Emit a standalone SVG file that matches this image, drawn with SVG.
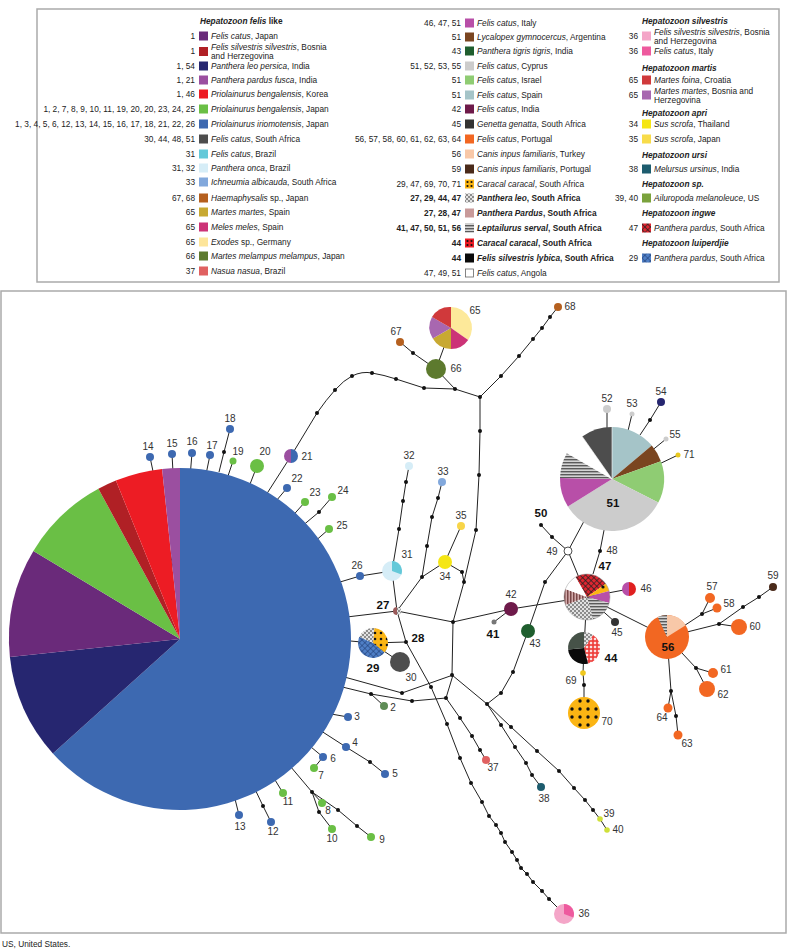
<svg xmlns="http://www.w3.org/2000/svg" width="787" height="949" viewBox="0 0 787 949">
<style>
.lg{font-family:"Liberation Sans",Arial,sans-serif;font-size:8.3px;fill:#222}
.hd{font-weight:bold;font-style:italic}
.it{font-style:italic}
.b{font-weight:bold}
.lb{font-family:"Liberation Sans",Arial,sans-serif;font-size:10px;fill:#333;text-anchor:middle}
.lbb{font-family:"Liberation Sans",Arial,sans-serif;font-size:11.5px;font-weight:bold;fill:#111;text-anchor:middle}
.ln{fill:none;stroke:#222;stroke-width:1}
.dot{fill:#111}
.frame{fill:none;stroke:#aaa;stroke-width:1.5}
</style>
<defs>
<pattern id="pLeo" width="4" height="4" patternUnits="userSpaceOnUse"><rect width="4" height="4" fill="#e2e2e2"/><rect width="2" height="2" fill="#8c8c8c"/><rect x="2" y="2" width="2" height="2" fill="#8c8c8c"/></pattern>
<pattern id="pServal" width="4" height="3" patternUnits="userSpaceOnUse"><rect width="4" height="3" fill="#d4d4d4"/><rect width="4" height="1.4" fill="#5a5a5a"/></pattern>
<pattern id="pIngwe" width="4" height="4" patternUnits="userSpaceOnUse" patternTransform="rotate(45)"><rect width="4" height="4" fill="#e02630"/><path d="M0 0H4M0 0V4" stroke="#222" stroke-width="1.3"/></pattern>
<pattern id="pLuip" width="4" height="4" patternUnits="userSpaceOnUse" patternTransform="rotate(45)"><rect width="4" height="4" fill="#4f7fc6"/><path d="M0 0H4M0 0V4" stroke="#1e3a70" stroke-width="1.1"/></pattern>
<pattern id="pGing" width="4" height="4" patternUnits="userSpaceOnUse"><rect width="4" height="4" fill="#fbe0e0"/><rect width="4" height="2" fill="#ee3a36" opacity=".8"/><rect width="2" height="4" fill="#ee3a36" opacity=".8"/></pattern>
<pattern id="pCar" width="6" height="6" patternUnits="userSpaceOnUse"><rect width="6" height="6" fill="#fbb514"/><circle cx="3" cy="3" r="1.3" fill="#111"/></pattern>
<pattern id="pPard" width="3" height="3" patternUnits="userSpaceOnUse"><rect width="3" height="3" fill="#d2aaaa"/><rect width="1.5" height="3" fill="#7a4848"/></pattern>
</defs>
<rect width="787" height="949" fill="#fff"/>

<!-- legend -->
<g id="legend" class="lg">
<rect class="frame" x="37" y="9" width="742" height="273"/>
<text x="200" y="24" class="hd">Hepatozoon felis <tspan font-style="normal">like</tspan></text>
<g text-anchor="end">
<text x="195" y="39">1</text>
<text x="195" y="54">1</text>
<text x="195" y="69">1, 54</text>
<text x="195" y="83">1, 21</text>
<text x="195" y="97">1, 46</text>
<text x="195" y="112">1, 2, 7, 8, 9, 10, 11, 19, 20, 20, 23, 24, 25</text>
<text x="195" y="127">1, 3, 4, 5, 6, 12, 13, 14, 15, 16, 17, 18, 21, 22, 26</text>
<text x="195" y="142">30, 44, 48, 51</text>
<text x="195" y="157">31</text>
<text x="195" y="171">31, 32</text>
<text x="195" y="185">33</text>
<text x="195" y="201">67, 68</text>
<text x="195" y="215">65</text>
<text x="195" y="230">65</text>
<text x="195" y="245">65</text>
<text x="195" y="259">66</text>
<text x="195" y="274">37</text>
</g>
<rect x="199" y="31.5" width="9" height="9" fill="#6a2a7a"/>
<rect x="199" y="47" width="9" height="9" fill="#b02025"/>
<rect x="199" y="61.5" width="9" height="9" fill="#262670"/>
<rect x="199" y="75.5" width="9" height="9" fill="#9b4fa0"/>
<rect x="199" y="89.5" width="9" height="9" fill="#ed1c24"/>
<rect x="199" y="104.5" width="9" height="9" fill="#6abf45"/>
<rect x="199" y="119.5" width="9" height="9" fill="#3d69b1"/>
<rect x="199" y="134.5" width="9" height="9" fill="#4d4d4d"/>
<rect x="199" y="149.5" width="9" height="9" fill="#64c9d9"/>
<rect x="199" y="163.5" width="9" height="9" fill="#d6edf7"/>
<rect x="199" y="177.5" width="9" height="9" fill="#82a8dc"/>
<rect x="199" y="193.5" width="9" height="9" fill="#b5601f"/>
<rect x="199" y="207.5" width="9" height="9" fill="#c8a932"/>
<rect x="199" y="222.5" width="9" height="9" fill="#cc3377"/>
<rect x="199" y="237.5" width="9" height="9" fill="#fde59a"/>
<rect x="199" y="251.5" width="9" height="9" fill="#5d7a2e"/>
<rect x="199" y="266.5" width="9" height="9" fill="#e06161"/>
<text x="211" y="39"><tspan class="it">Felis catus</tspan>, Japan</text>
<text x="211" y="49.5"><tspan class="it">Felis silvestris silvestris</tspan>, Bosnia</text>
<text x="211" y="58.5">and Herzegovina</text>
<text x="211" y="69"><tspan class="it">Panthera leo persica</tspan>, India</text>
<text x="211" y="83"><tspan class="it">Panthera pardus fusca</tspan>, India</text>
<text x="211" y="97"><tspan class="it">Priolainurus bengalensis</tspan>, Korea</text>
<text x="211" y="112"><tspan class="it">Priolainurus bengalensis</tspan>, Japan</text>
<text x="211" y="127"><tspan class="it">Priolainurus iriomotensis</tspan>, Japan</text>
<text x="211" y="142"><tspan class="it">Felis catus</tspan>, South Africa</text>
<text x="211" y="157"><tspan class="it">Felis catus</tspan>, Brazil</text>
<text x="211" y="171"><tspan class="it">Panthera onca</tspan>, Brazil</text>
<text x="211" y="185"><tspan class="it">Ichneumia albicauda</tspan>, South Africa</text>
<text x="211" y="201"><tspan class="it">Haemaphysalis</tspan> sp., Japan</text>
<text x="211" y="215"><tspan class="it">Martes martes</tspan>, Spain</text>
<text x="211" y="230"><tspan class="it">Meles meles</tspan>, Spain</text>
<text x="211" y="245"><tspan class="it">Exodes</tspan> sp., Germany</text>
<text x="211" y="259"><tspan class="it">Martes melampus melampus</tspan>, Japan</text>
<text x="211" y="274"><tspan class="it">Nasua nasua</tspan>, Brazil</text>

<g text-anchor="end">
<text x="461" y="26">46, 47, 51</text>
<text x="461" y="40">51</text>
<text x="461" y="54">43</text>
<text x="461" y="69">51, 52, 53, 55</text>
<text x="461" y="83">51</text>
<text x="461" y="98">51</text>
<text x="461" y="112">42</text>
<text x="461" y="127">45</text>
<text x="461" y="142">56, 57, 58, 60, 61, 62, 63, 64</text>
<text x="461" y="157">56</text>
<text x="461" y="172">59</text>
<text x="461" y="187">29, 47, 69, 70, 71</text>
<text x="461" y="201" class="b">27, 29, 44, 47</text>
<text x="461" y="216" class="b">27, 28, 47</text>
<text x="461" y="231" class="b">41, 47, 50, 51, 56</text>
<text x="461" y="246" class="b">44</text>
<text x="461" y="261" class="b">44</text>
<text x="461" y="276">47, 49, 51</text>
</g>
<rect x="465" y="18.5" width="9" height="9" fill="#b84fa8"/>
<rect x="465" y="32.5" width="9" height="9" fill="#7a4520"/>
<rect x="465" y="46.5" width="9" height="9" fill="#1f5e2e"/>
<rect x="465" y="61.5" width="9" height="9" fill="#cccccc"/>
<rect x="465" y="75.5" width="9" height="9" fill="#8fcc73"/>
<rect x="465" y="90.5" width="9" height="9" fill="#a5c4c8"/>
<rect x="465" y="104.5" width="9" height="9" fill="#6e1a4a"/>
<rect x="465" y="119.5" width="9" height="9" fill="#333333"/>
<rect x="465" y="134.5" width="9" height="9" fill="#f26722"/>
<rect x="465" y="149.5" width="9" height="9" fill="#f8c8a8"/>
<rect x="465" y="164.5" width="9" height="9" fill="#4a2a1a"/>
<rect x="465" y="179.5" width="9" height="9" fill="#fbb514"/>
<g fill="#111"><circle cx="467.5" cy="182" r="1.1"/><circle cx="471.5" cy="182" r="1.1"/><circle cx="467.5" cy="186" r="1.1"/><circle cx="471.5" cy="186" r="1.1"/></g>
<rect x="465" y="193.5" width="9" height="9" fill="url(#pLeo)"/>
<rect x="465" y="208.5" width="9" height="9" fill="#c89a9a"/>
<rect x="465" y="223.5" width="9" height="9" fill="url(#pServal)"/>
<rect x="465" y="238.5" width="9" height="9" fill="#ed1c24"/>
<g fill="#111"><circle cx="467.5" cy="241" r="1.1"/><circle cx="471.5" cy="241" r="1.1"/><circle cx="467.5" cy="245" r="1.1"/><circle cx="471.5" cy="245" r="1.1"/></g>
<rect x="465" y="253.5" width="9" height="9" fill="#0a0a0a"/>
<rect x="465.5" y="269" width="8" height="8" fill="#fff" stroke="#666" stroke-width="0.8"/>
<text x="477" y="26"><tspan class="it">Felis catus</tspan>, Italy</text>
<text x="477" y="40"><tspan class="it">Lycalopex gymnocercus</tspan>, Argentina</text>
<text x="477" y="54"><tspan class="it">Panthera tigris tigris</tspan>, India</text>
<text x="477" y="69"><tspan class="it">Felis catus</tspan>, Cyprus</text>
<text x="477" y="83"><tspan class="it">Felis catus</tspan>, Israel</text>
<text x="477" y="98"><tspan class="it">Felis catus</tspan>, Spain</text>
<text x="477" y="112"><tspan class="it">Felis catus</tspan>, India</text>
<text x="477" y="127"><tspan class="it">Genetta genatta</tspan>, South Africa</text>
<text x="477" y="142"><tspan class="it">Felis catus</tspan>, Portugal</text>
<text x="477" y="157"><tspan class="it">Canis inpus familiaris</tspan>, Turkey</text>
<text x="477" y="172"><tspan class="it">Canis inpus familiaris</tspan>, Portugal</text>
<text x="477" y="187"><tspan class="it">Caracal caracal</tspan>, South Africa</text>
<text x="477" y="201" class="b"><tspan class="it">Panthera leo</tspan>, South Africa</text>
<text x="477" y="216" class="b"><tspan class="it">Panthera Pardus</tspan>, South Africa</text>
<text x="477" y="231" class="b"><tspan class="it">Leptailurus serval</tspan>, South Africa</text>
<text x="477" y="246" class="b"><tspan class="it">Caracal caracal</tspan>, South Africa</text>
<text x="477" y="261" class="b"><tspan class="it">Felis silvestris lybica</tspan>, South Africa</text>
<text x="477" y="276"><tspan class="it">Felis catus</tspan>, Angola</text>

<text x="642" y="24" class="hd">Hepatozoon silvestris</text>
<text x="642" y="71" class="hd">Hepatozoon martis</text>
<text x="642" y="116" class="hd">Hepatozoon apri</text>
<text x="642" y="158" class="hd">Hepatozoon ursi</text>
<text x="642" y="187" class="hd">Hepatozoon sp.</text>
<text x="642" y="216" class="hd">Hepatozoon ingwe</text>
<text x="642" y="246" class="hd">Hepatozoon luiperdjie</text>
<g text-anchor="end">
<text x="638" y="39">36</text>
<text x="638" y="54">36</text>
<text x="638" y="83">65</text>
<text x="638" y="98">65</text>
<text x="638" y="127">34</text>
<text x="638" y="142">35</text>
<text x="638" y="172">38</text>
<text x="638" y="201">39, 40</text>
<text x="638" y="231">47</text>
<text x="638" y="261">29</text>
</g>
<rect x="642" y="31.5" width="9" height="9" fill="#f4a6c8"/>
<rect x="642" y="46.5" width="9" height="9" fill="#ee5a9e"/>
<rect x="642" y="75.5" width="9" height="9" fill="#d0393b"/>
<rect x="642" y="90.5" width="9" height="9" fill="#a867b0"/>
<rect x="642" y="119.5" width="9" height="9" fill="#f5e614"/>
<rect x="642" y="134.5" width="9" height="9" fill="#f8dc4a"/>
<rect x="642" y="164.5" width="9" height="9" fill="#1d5c6e"/>
<rect x="642" y="193.5" width="9" height="9" fill="#7aa23c"/>
<rect x="642" y="223.5" width="9" height="9" fill="url(#pIngwe)"/>
<rect x="642" y="253.5" width="9" height="9" fill="url(#pLuip)"/>
<text x="654" y="35"><tspan class="it">Felis silvestris silvestris</tspan>, Bosnia</text>
<text x="654" y="43.5">and Herzegovina</text>
<text x="654" y="54"><tspan class="it">Felis catus</tspan>, Italy</text>
<text x="654" y="83"><tspan class="it">Martes foina</tspan>, Croatia</text>
<text x="654" y="94"><tspan class="it">Martes martes</tspan>, Bosnia and</text>
<text x="654" y="102.5">Herzegovina</text>
<text x="654" y="127"><tspan class="it">Sus scrofa</tspan>, Thailand</text>
<text x="654" y="142"><tspan class="it">Sus scrofa</tspan>, Japan</text>
<text x="654" y="172"><tspan class="it">Melursus ursinus</tspan>, India</text>
<text x="654" y="201"><tspan class="it">Ailuropoda melanoleuce</tspan>, US</text>
<text x="654" y="231"><tspan class="it">Panthera pardus</tspan>, South Africa</text>
<text x="654" y="261"><tspan class="it">Panthera pardus</tspan>, South Africa</text>
</g>

<rect class="frame" x="1" y="291" width="785" height="642"/>

<!-- connectors -->
<g id="connectors" class="ln">
<polyline points="180,600 150,457"/>
<polyline points="180,600 172,454"/>
<polyline points="180,600 192,453"/>
<polyline points="180,600 210,455"/>
<polyline points="219,472 224,452 230,429"/>
<polyline points="220,500 233,461"/>
<polyline points="240,510 257,466"/>
<polyline points="250,520 291,456"/>
<polyline points="260,520 287,488"/>
<polyline points="280,530 305,502"/>
<polyline points="295,532 319,512 332,497"/>
<polyline points="305,550 329,529"/>
<polyline points="330,585 360,576 392,571"/>
<polyline points="330,619 397,611"/>
<polyline points="340,640 372,643 406,642"/>
<polyline points="372,643 400,662"/>
<polyline points="330,673 402,693 453,675"/>
<polyline points="330,684 371,694 412,701 446,698 453,675"/>
<polyline points="371,694 384,706"/>
<polyline points="320,712 348,717"/>
<polyline points="315,727 346,747 370,762 385,774"/>
<polyline points="305,742 323,757 314,768"/>
<polyline points="285,760 312,792 322,803"/>
<polyline points="312,792 319,812 332,829"/>
<polyline points="312,792 338,810 357,826 371,837"/>
<polyline points="272,775 283,793"/>
<polyline points="253,785 263,806 271,822"/>
<polyline points="234,795 239,815"/>
<path d="M291,456 L317,413 Q326,400 335,390 Q344,380 352,376 Q362,371 372,373 Q384,375 396,379 L424,388 L455,389 L480,397"/>
<polyline points="400,342 413,353 436,369 455,389"/>
<polyline points="451,328 436,369"/>
<polyline points="480,397 501,376 519,356 533,339 542,328 550,317 558,307"/>
<polyline points="480,397 480,431 479,475 476,530 464,582 453,622"/>
<polyline points="409,466 406,482 403,501 399,529 392,571 397,611"/>
<polyline points="442,482 438,498 432,517 427,546 422,577 397,611"/>
<polyline points="422,577 445,562 461,526"/>
<polyline points="445,562 462,572 464,582"/>
<polyline points="397,611 453,622 511,609 587,597"/>
<polyline points="511,609 494,622"/>
<polyline points="397,611 406,642 431,687 447,724 460,758 471,783 482,802 489,816 496,825 501,833 505,842 512,852 517,860 521,868 527,874 533,882 542,891 549,899 564,914"/>
<polyline points="453,622 452,675 487,704"/>
<polyline points="446,698 460,718 472,736 480,750 486,760"/>
<polyline points="487,704 501,693 513,672 528,631 545,582 568,551"/>
<polyline points="487,704 501,725 515,747 526,763 532,775 541,787"/>
<polyline points="487,704 511,727 537,751 559,771 574,788 585,800 593,810 600,819 607,830"/>
<polyline points="541,525 552,537 568,551 587,597"/>
<polyline points="568,551 590,510"/>
<polyline points="606,520 600,551 593,574"/>
<polyline points="607,440 607,409"/>
<polyline points="627,435 632,414"/>
<polyline points="640,435 650,420 661,402"/>
<polyline points="650,452 666,439"/>
<polyline points="655,466 678,455"/>
<polyline points="587,597 629,589"/>
<polyline points="587,597 615,622"/>
<polyline points="587,597 667,637"/>
<polyline points="586,610 584,648 583,673 584,685 584,713"/>
<polyline points="667,637 702,614 710,598"/>
<polyline points="702,614 717,608"/>
<polyline points="667,637 719,624 739,627"/>
<polyline points="719,624 743,607 759,597 773,587"/>
<polyline points="667,637 696,668 713,673"/>
<polyline points="696,668 707,689"/>
<polyline points="667,637 671,691 668,708"/>
<polyline points="671,691 676,716 678,735"/>
</g>

<!-- junction dots -->
<g id="dots" class="dot">
<circle cx="224" cy="452" r="2"/><circle cx="319" cy="512" r="2"/><circle cx="317" cy="413" r="2"/><circle cx="335" cy="390" r="2"/><circle cx="352" cy="376" r="2"/><circle cx="372" cy="373" r="2"/><circle cx="396" cy="379" r="2"/><circle cx="424" cy="388" r="2"/><circle cx="455" cy="389" r="2"/><circle cx="480" cy="397" r="2"/><circle cx="413" cy="353" r="2"/>
<circle cx="501" cy="376" r="2"/><circle cx="519" cy="356" r="2"/><circle cx="533" cy="339" r="2"/><circle cx="542" cy="328" r="2"/><circle cx="550" cy="317" r="2"/>
<circle cx="480" cy="431" r="2"/><circle cx="479" cy="475" r="2"/><circle cx="476" cy="530" r="2"/><circle cx="464" cy="582" r="2"/><circle cx="462" cy="572" r="2"/><circle cx="453" cy="622" r="2"/>
<circle cx="406" cy="482" r="2"/><circle cx="403" cy="501" r="2"/><circle cx="399" cy="529" r="2"/>
<circle cx="438" cy="498" r="2"/><circle cx="432" cy="517" r="2"/><circle cx="427" cy="546" r="2"/><circle cx="422" cy="577" r="2"/>
<circle cx="406" cy="642" r="2"/><circle cx="431" cy="687" r="2"/><circle cx="447" cy="724" r="2"/><circle cx="460" cy="758" r="2"/><circle cx="471" cy="783" r="2"/><circle cx="482" cy="802" r="2"/><circle cx="489" cy="816" r="2"/><circle cx="496" cy="825" r="2"/><circle cx="501" cy="833" r="2"/><circle cx="505" cy="842" r="2"/><circle cx="512" cy="852" r="2"/><circle cx="517" cy="860" r="2"/><circle cx="521" cy="868" r="2"/><circle cx="527" cy="874" r="2"/><circle cx="533" cy="882" r="2"/><circle cx="542" cy="891" r="2"/><circle cx="549" cy="899" r="2"/>
<circle cx="452" cy="675" r="2"/><circle cx="402" cy="693" r="2"/><circle cx="371" cy="694" r="2"/><circle cx="412" cy="701" r="2"/><circle cx="446" cy="698" r="2"/><circle cx="460" cy="718" r="2"/><circle cx="472" cy="736" r="2"/><circle cx="480" cy="750" r="2"/>
<circle cx="487" cy="704" r="2"/><circle cx="501" cy="693" r="2"/><circle cx="513" cy="672" r="2"/><circle cx="545" cy="582" r="2"/>
<circle cx="501" cy="725" r="2"/><circle cx="515" cy="747" r="2"/><circle cx="526" cy="763" r="2"/><circle cx="532" cy="775" r="2"/>
<circle cx="511" cy="727" r="2"/><circle cx="537" cy="751" r="2"/><circle cx="559" cy="771" r="2"/><circle cx="574" cy="788" r="2"/><circle cx="585" cy="800" r="2"/><circle cx="593" cy="810" r="2"/>
<circle cx="541" cy="525" r="2"/><circle cx="552" cy="537" r="2"/><circle cx="600" cy="551" r="2"/><circle cx="650" cy="420" r="2"/><circle cx="584" cy="685" r="2"/>
<circle cx="702" cy="614" r="2"/><circle cx="719" cy="624" r="2"/><circle cx="743" cy="607" r="2"/><circle cx="759" cy="597" r="2"/><circle cx="696" cy="668" r="2"/><circle cx="671" cy="691" r="2"/><circle cx="676" cy="716" r="2"/>
<circle cx="370" cy="762" r="2"/><circle cx="312" cy="792" r="2"/><circle cx="319" cy="812" r="2"/><circle cx="338" cy="810" r="2"/><circle cx="357" cy="826" r="2"/><circle cx="263" cy="806" r="2"/>
</g>

<!-- big pie node 1 -->
<g id="n1">
<path d="M180,639 L180,468 A171,171 0 1 1 52.9,753.4 Z" fill="#3d69b1"/>
<path d="M180,639 L52.9,753.4 A171,171 0 0 1 9.9,656.9 Z" fill="#262670"/>
<path d="M180,639 L9.9,656.9 A171,171 0 0 1 33.4,550.9 Z" fill="#6a2a7a"/>
<path d="M180,639 L33.4,550.9 A171,171 0 0 1 98.4,488.7 Z" fill="#6abf45"/>
<path d="M180,639 L98.4,488.7 A171,171 0 0 1 115.9,480.5 Z" fill="#b02025"/>
<path d="M180,639 L115.9,480.5 A171,171 0 0 1 162.1,468.9 Z" fill="#ed1c24"/>
<path d="M180,639 L162.1,468.9 A171,171 0 0 1 180,468 Z" fill="#9b4fa0"/>
</g>

<g id="small-nodes">
<g id="n14"><circle cx="150" cy="457" r="4" fill="#3d69b1"/><text class="lb" x="148" y="450">14</text></g>
<g id="n15"><circle cx="172" cy="454" r="4" fill="#3d69b1"/><text class="lb" x="172" y="447">15</text></g>
<g id="n16"><circle cx="192" cy="453" r="4" fill="#3d69b1"/><text class="lb" x="192" y="445">16</text></g>
<g id="n17"><circle cx="210" cy="455" r="4" fill="#3d69b1"/><text class="lb" x="212" y="449">17</text></g>
<g id="n18"><circle cx="230" cy="429" r="4" fill="#3d69b1"/><text class="lb" x="230" y="422">18</text></g>
<g id="n19"><circle cx="233" cy="461" r="3.5" fill="#6abf45"/><text class="lb" x="238" y="455">19</text></g>
<g id="n20"><circle cx="257" cy="466" r="7" fill="#6abf45"/><text class="lb" x="265" y="455">20</text></g>
<g id="n21"><path d="M291,449 A7,7 0 0 1 291,463 Z" fill="#3d69b1"/><path d="M291,463 A7,7 0 0 1 291,449 Z" fill="#9b4fa0"/><text class="lb" x="307" y="460">21</text></g>
<g id="n22"><circle cx="287" cy="488" r="4" fill="#3d69b1"/><text class="lb" x="297" y="482">22</text></g>
<g id="n23"><circle cx="305" cy="502" r="4" fill="#6abf45"/><text class="lb" x="315" y="496">23</text></g>
<g id="n24"><circle cx="332" cy="497" r="4" fill="#6abf45"/><text class="lb" x="343" y="494">24</text></g>
<g id="n25"><circle cx="329" cy="529" r="4" fill="#6abf45"/><text class="lb" x="342" y="529">25</text></g>
<g id="n26"><circle cx="360" cy="576" r="4" fill="#3d69b1"/><text class="lb" x="357" y="569">26</text></g>
<g id="n2"><circle cx="384" cy="706" r="4" fill="#5e8c56"/><text class="lb" x="393" y="711">2</text></g>
<g id="n3"><circle cx="348" cy="717" r="4" fill="#3d69b1"/><text class="lb" x="357" y="720">3</text></g>
<g id="n4"><circle cx="346" cy="747" r="4" fill="#3d69b1"/><text class="lb" x="355" y="746">4</text></g>
<g id="n5"><circle cx="385" cy="774" r="4" fill="#3d69b1"/><text class="lb" x="395" y="777">5</text></g>
<g id="n6"><circle cx="323" cy="757" r="4" fill="#3d69b1"/><text class="lb" x="333" y="762">6</text></g>
<g id="n7"><circle cx="314" cy="768" r="4" fill="#6abf45"/><text class="lb" x="321" y="779">7</text></g>
<g id="n8"><circle cx="322" cy="803" r="4" fill="#6abf45"/><text class="lb" x="328" y="814">8</text></g>
<g id="n9"><circle cx="371" cy="837" r="4" fill="#6abf45"/><text class="lb" x="382" y="843">9</text></g>
<g id="n10"><circle cx="332" cy="829" r="4" fill="#6abf45"/><text class="lb" x="332" y="842">10</text></g>
<g id="n11"><circle cx="283" cy="793" r="4" fill="#6abf45"/><text class="lb" x="288" y="805">11</text></g>
<g id="n12"><circle cx="271" cy="822" r="4" fill="#3d69b1"/><text class="lb" x="273" y="835">12</text></g>
<g id="n13"><circle cx="239" cy="815" r="4" fill="#3d69b1"/><text class="lb" x="240" y="830">13</text></g>
</g>

<g id="n27"><path d="M397,607 A4,4 0 0 1 397,615 Z" fill="url(#pLeo)"/><path d="M397,615 A4,4 0 0 1 397,607 Z" fill="#9a5a5a"/><text class="lbb" x="383" y="609">27</text></g>
<g id="n28"><text class="lbb" x="418" y="642">28</text></g>
<g id="n29">
<path d="M373,643 L374.3,628.1 A15,15 0 0 1 384.5,652.6 Z" fill="url(#pCar)"/>
<path d="M373,643 L384.5,652.6 A15,15 0 0 1 359.4,636.7 Z" fill="url(#pLuip)"/>
<path d="M373,643 L359.4,636.7 A15,15 0 0 1 374.3,628.1 Z" fill="url(#pLeo)"/>
<text class="lbb" x="373" y="672">29</text></g>
<g id="n30"><circle cx="400" cy="662" r="10" fill="#4d4d4d"/><text class="lb" x="411" y="681">30</text></g>
<g id="n31"><circle cx="392" cy="571" r="10" fill="#d6edf7"/><path d="M392,571 L392,561 A10,10 0 0 1 401.4,574.4 Z" fill="#64c9d9"/><text class="lb" x="407" y="558">31</text></g>
<g id="n32"><circle cx="409" cy="466" r="4" fill="#d6edf7"/><text class="lb" x="409" y="459">32</text></g>
<g id="n33"><circle cx="442" cy="482" r="4" fill="#82a8dc"/><text class="lb" x="443" y="475">33</text></g>
<g id="n34"><circle cx="445" cy="562" r="7" fill="#f5e614"/><text class="lb" x="445" y="580">34</text></g>
<g id="n35"><circle cx="461" cy="526" r="4" fill="#f8d548"/><text class="lb" x="461" y="519">35</text></g>
<g id="n36"><circle cx="564" cy="914" r="10" fill="#f4a6c8"/><path d="M564,914 L564,904 A10,10 0 0 1 573.4,917.4 Z" fill="#ee5a9e"/><text class="lb" x="584" y="917">36</text></g>
<g id="n37"><circle cx="486" cy="760" r="4" fill="#e06161"/><text class="lb" x="493" y="771">37</text></g>
<g id="n38"><circle cx="541" cy="787" r="4" fill="#1d5c6e"/><text class="lb" x="544" y="802">38</text></g>
<g id="n39"><circle cx="600" cy="819" r="2.8" fill="#cfe03a"/><text class="lb" x="609" y="817">39</text></g>
<g id="n40"><circle cx="607" cy="830" r="2.8" fill="#cfe03a"/><text class="lb" x="618" y="833">40</text></g>
<g id="n41"><circle cx="494" cy="622" r="2.5" fill="#777"/><text class="lbb" x="493" y="638">41</text></g>
<g id="n42"><circle cx="511" cy="609" r="7" fill="#6e1a4a"/><text class="lb" x="511" y="598">42</text></g>
<g id="n43"><circle cx="528" cy="631" r="7" fill="#1f5e2e"/><text class="lb" x="535" y="647">43</text></g>
<g id="n44">
<path d="M584,648 L584,632 A16,16 0 0 1 593.2,634.9 Z" fill="url(#pLeo)"/>
<path d="M584,648 L593.2,634.9 A16,16 0 0 1 588.1,663.5 Z" fill="url(#pGing)"/>
<path d="M584,648 L588.1,663.5 A16,16 0 0 1 568.1,649.4 Z" fill="#0a0a0a"/>
<path d="M584,648 L568.1,649.4 A16,16 0 0 1 584,632 Z" fill="#465248"/>
<text class="lbb" x="611" y="662">44</text></g>
<g id="n45"><circle cx="615" cy="622" r="4" fill="#333"/><text class="lb" x="617" y="636">45</text></g>
<g id="n46"><path d="M629,582 A7,7 0 0 1 629,596 Z" fill="#e02020"/><path d="M629,596 A7,7 0 0 1 629,582 Z" fill="#b84fa8"/><text class="lb" x="646" y="592">46</text></g>
<g id="n47">
<path d="M587,597 L575.5,577.1 A23,23 0 0 1 605.8,583.8 Z" fill="url(#pIngwe)"/>
<path d="M587,597 L605.8,583.8 A23,23 0 0 1 609.2,591 Z" fill="#fbb514"/>
<path d="M587,597 L609.2,591 A23,23 0 0 1 609.2,603 Z" fill="#b84fa8"/>
<path d="M587,597 L609.2,603 A23,23 0 0 1 593,619.2 Z" fill="url(#pServal)"/>
<path d="M587,597 L593,619.2 A23,23 0 0 1 565.4,604.9 Z" fill="url(#pLeo)"/>
<path d="M587,597 L565.4,604.9 A23,23 0 0 1 565.4,589.1 Z" fill="url(#pPard)"/>
<path d="M587,597 L565.4,589.1 A23,23 0 0 1 575.5,577.1 Z" fill="#fff"/>
<circle cx="587" cy="597" r="23" fill="none" stroke="#999" stroke-width="0.5"/>
<circle cx="603" cy="587" r="1.6" fill="#111"/>
<text class="lbb" x="605" y="570">47</text></g>
<g id="n48"><text class="lb" x="612" y="554">48</text></g>
<g id="n49"><circle cx="568" cy="551" r="4" fill="#fff" stroke="#222" stroke-width="0.8"/><text class="lb" x="552" y="555">49</text></g>
<g id="n50"><text class="lbb" x="541" y="517">50</text></g>
<g id="n51">
<path d="M612,479 L612,427 A52,52 0 0 1 651.8,445.6 Z" fill="#a5c4c8"/>
<path d="M612,479 L651.8,445.6 A52,52 0 0 1 660.9,461.2 Z" fill="#7a4520"/>
<path d="M612,479 L660.9,461.2 A52,52 0 0 1 658.3,502.6 Z" fill="#8fcc73"/>
<path d="M612,479 L658.3,502.6 A52,52 0 0 1 567.9,506.6 Z" fill="#cccccc"/>
<path d="M612,479 L567.9,506.6 A52,52 0 0 1 560,478.1 Z" fill="#b84fa8"/>
<path d="M612,479 L560,478.1 A52,52 0 0 1 567,453 Z" fill="url(#pServal)"/>
<path d="M612,479 L567,453 A52,52 0 0 1 582.2,436.4 Z" fill="#fff"/>
<path d="M612,479 L582.2,436.4 A52,52 0 0 1 612,427 Z" fill="#4d4d4d"/>
<path d="M612,479 L612,427 M612,479 L582.2,436.4 M612,479 L567,453" stroke="#fff" stroke-width="0.6"/>
<text class="lbb" x="613" y="507">51</text></g>
<g id="n52"><circle cx="607" cy="409" r="4" fill="#cccccc"/><text class="lb" x="607" y="402">52</text></g>
<g id="n53"><circle cx="632" cy="414" r="2.5" fill="#cccccc"/><text class="lb" x="632" y="407">53</text></g>
<g id="n54"><circle cx="661" cy="402" r="4" fill="#262670"/><text class="lb" x="661" y="395">54</text></g>
<g id="n55"><circle cx="666" cy="439" r="2.5" fill="#cccccc"/><text class="lb" x="675" y="438">55</text></g>
<g id="n71"><circle cx="678" cy="455" r="2.5" fill="#e8c81e"/><text class="lb" x="689" y="458">71</text></g>
<g id="n56">
<circle cx="667" cy="637" r="22" fill="#f26722"/>
<path d="M667,637 L657.7,617.1 A22,22 0 0 1 667,615 Z" fill="url(#pServal)"/>
<path d="M667,637 L667,615 A22,22 0 0 1 685.7,625.3 Z" fill="#f8c8a8"/>
<text class="lbb" x="668" y="651">56</text></g>
<g id="n57"><circle cx="710" cy="598" r="5" fill="#f26722"/><text class="lb" x="712" y="590">57</text></g>
<g id="n58"><circle cx="717" cy="608" r="4.5" fill="#f26722"/><text class="lb" x="729" y="607">58</text></g>
<g id="n59"><circle cx="773" cy="587" r="4" fill="#4a2a1a"/><text class="lb" x="773" y="579">59</text></g>
<g id="n60"><circle cx="739" cy="627" r="8" fill="#f26722"/><text class="lb" x="755" y="630">60</text></g>
<g id="n61"><circle cx="713" cy="673" r="5" fill="#f26722"/><text class="lb" x="726" y="673">61</text></g>
<g id="n62"><circle cx="707" cy="689" r="8" fill="#f26722"/><text class="lb" x="723" y="698">62</text></g>
<g id="n63"><circle cx="678" cy="735" r="4.5" fill="#f26722"/><text class="lb" x="687" y="747">63</text></g>
<g id="n64"><circle cx="668" cy="708" r="4.5" fill="#f26722"/><text class="lb" x="662" y="721">64</text></g>
<g id="n65">
<path d="M451,328 L451,307 A21,21 0 0 1 468.2,340 Z" fill="#fde99a"/>
<path d="M451,328 L468.2,340 A21,21 0 0 1 451,349 Z" fill="#cc3377"/>
<path d="M451,328 L451,349 A21,21 0 0 1 432.8,338.5 Z" fill="#c8a932"/>
<path d="M451,328 L432.8,338.5 A21,21 0 0 1 432,316.9 Z" fill="#a867b0"/>
<path d="M451,328 L432,316.9 A21,21 0 0 1 451,307 Z" fill="#d0393b"/>
<text class="lb" x="475" y="314">65</text></g>
<g id="n66"><circle cx="436" cy="369" r="10" fill="#5d7a2e"/><text class="lb" x="456" y="372">66</text></g>
<g id="n67"><circle cx="400" cy="342" r="4" fill="#b5601f"/><text class="lb" x="396" y="335">67</text></g>
<g id="n68"><circle cx="558" cy="307" r="4" fill="#b5601f"/><text class="lb" x="570" y="310">68</text></g>
<g id="n69"><circle cx="583" cy="673" r="2.8" fill="#f0c81e"/><text class="lb" x="571" y="684">69</text></g>
<g id="n70"><circle cx="584" cy="713" r="16" fill="#fbb514"/>
<g fill="#111"><circle cx="580" cy="701" r="1.7"/><circle cx="588" cy="701" r="1.7"/><circle cx="572" cy="709" r="1.7"/><circle cx="580" cy="709" r="1.7"/><circle cx="588" cy="709" r="1.7"/><circle cx="596" cy="709" r="1.7"/><circle cx="572" cy="717" r="1.7"/><circle cx="580" cy="717" r="1.7"/><circle cx="588" cy="717" r="1.7"/><circle cx="596" cy="717" r="1.7"/><circle cx="580" cy="725" r="1.7"/><circle cx="588" cy="725" r="1.7"/></g>
<text class="lb" x="607" y="725">70</text></g>

<text x="2" y="947" style="font-family:'Liberation Sans',Arial,sans-serif;font-size:8.3px;fill:#222">US, United States.</text>
</svg>
